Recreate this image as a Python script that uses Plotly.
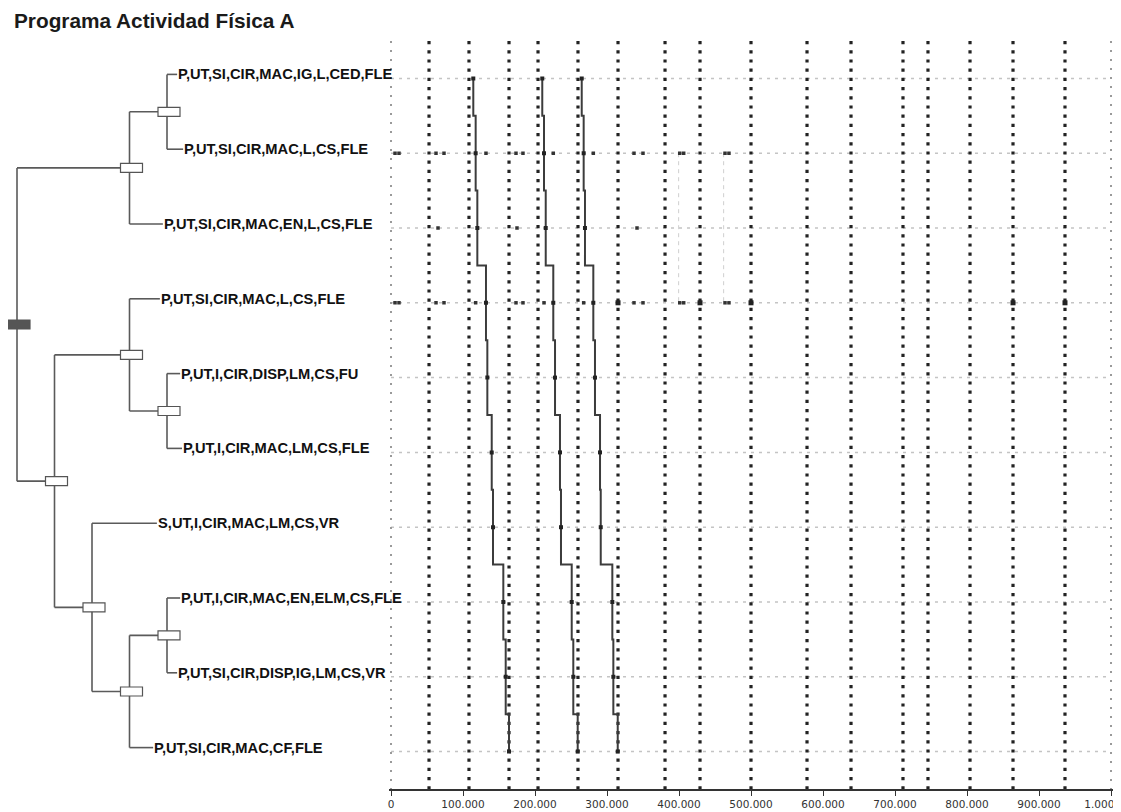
import plotly.graph_objects as go

# page body has an 8px margin: figure is sized/positioned to compensate
OFF = 8
W, H = 1121 - OFF, 812 - OFF

# ---------------- data ----------------
title_text = "Programa Actividad Física A"

leaf_labels = [
    "P,UT,SI,CIR,MAC,IG,L,CED,FLE",
    "P,UT,SI,CIR,MAC,L,CS,FLE",
    "P,UT,SI,CIR,MAC,EN,L,CS,FLE",
    "P,UT,SI,CIR,MAC,L,CS,FLE",
    "P,UT,I,CIR,DISP,LM,CS,FU",
    "P,UT,I,CIR,MAC,LM,CS,FLE",
    "S,UT,I,CIR,MAC,LM,CS,VR",
    "P,UT,I,CIR,MAC,EN,ELM,CS,FLE",
    "P,UT,SI,CIR,DISP,IG,LM,CS,VR",
    "P,UT,SI,CIR,MAC,CF,FLE",
]

# dendrogram merges (children), merge level (0 = root) and leaf branch ends
merge_children = [
    ("L0", "L1"), ("N0", "L2"), ("L4", "L5"), ("L3", "N2"), ("L7", "L8"),
    ("N4", "L9"), ("L6", "N5"), ("N3", "N6"), ("N1", "N7"),
]
merge_levels = [4, 3, 4, 3, 4, 3, 2, 1, 0]
leaf_branch_end = [4.27, 4.43, 3.89, 3.81, 4.35, 4.40, 3.73, 4.35, 4.27, 3.63]

# three staircase series (value per leaf row)
series_a = [114300, 117600, 119900, 131900, 133800, 139900, 141700, 156000, 159300, 163900]
series_b = [210100, 212500, 214900, 225400, 227800, 234700, 236100, 251000, 253200, 259300]
series_c = [264900, 267600, 269400, 281000, 283300, 290300, 291300, 307400, 308800, 314900]

# dotted reference values
reference_values = [52800, 108300, 163900, 204200, 259700, 315300, 380600, 429200,
                    500000, 577800, 638900, 711100, 745800, 804200, 863900, 936100]
boundary_values = [0, 1000000]

# scattered observations per row
row1_points = [5600, 11100, 62500, 73600, 131900, 173600, 183300, 225400, 281000,
               337500, 350000, 401000, 406500, 463900, 469400]
row2_points = [65300, 175000, 341700]
row3_points = [5600, 11100, 62500, 73600, 117600, 173600, 183300, 212500, 267600,
               337500, 350000, 401000, 406500, 463900, 469400]
row3_marks = [315300, 429200, 500000, 863900, 936100]
faint_link_values = [399500, 462000]
faint_link_rows = [1, 3]

x_ticks = list(range(0, 1000001, 100000))
x_ticktext = [f"{v:,}".replace(",", ".") for v in x_ticks]

# ---------------- layout geometry (page pixels minus body offset) ----------------
PX0, PX1 = 391 - OFF, 1111 - OFF      # pixel of value 0 / 1,000,000
PT, PB = 41 - OFF, 789 - OFF          # plot top / bottom
pad_val = 3000
ppv = (PX1 - PX0) / 1e6
xdom = [(PX0 - pad_val * ppv) / W, min(1.0, (PX1 + pad_val * ppv) / W)]
ydom = [1 - PB / H, 1 - PT / H]
rows = list(range(len(leaf_labels)))
n = len(rows)

LV0, LVSTEP = 17 - OFF, 37.5          # dendrogram level -> px
x2range = [-LV0 / LVSTEP, (PX0 - LV0) / LVSTEP]
row_px = (PB - PT) / n
yoff = 4 / row_px

fig = go.Figure()

# horizontal row guide lines
hx, hy = [], []
for r in rows:
    hx += [0, 1000000, None]
    hy += [r, r, None]
fig.add_trace(go.Scatter(x=hx, y=hy, mode="lines",
                         line=dict(color="#c4c4c4", width=1.5, dash="3px,5px"),
                         hoverinfo="skip", showlegend=False))

# boundary dotted lines (lighter)
for v in boundary_values:
    fig.add_trace(go.Scatter(x=[v, v], y=[-0.5, n - 0.5], mode="lines",
                             line=dict(color="#9a9a9a", width=2, dash="2px,7px"),
                             hoverinfo="skip", showlegend=False))

# reference dotted lines
for v in reference_values:
    fig.add_trace(go.Scatter(x=[v, v], y=[-0.5, n - 0.5], mode="lines",
                             line=dict(color="#222222", width=3.2, dash="3.2px,6px"),
                             hoverinfo="skip", showlegend=False))

# faint link lines
for v in faint_link_values:
    fig.add_trace(go.Scatter(x=[v, v], y=faint_link_rows, mode="lines",
                             line=dict(color="#cfcfcf", width=1, dash="4px,4px"),
                             hoverinfo="skip", showlegend=False))

# scattered points
for r, pts in [(1, row1_points), (2, row2_points), (3, row3_points)]:
    fig.add_trace(go.Scatter(x=pts, y=[r] * len(pts), mode="markers",
                             marker=dict(symbol="square", size=3.5, color="#333333"),
                             hoverinfo="skip", showlegend=False))
fig.add_trace(go.Scatter(x=row3_marks, y=[3] * len(row3_marks), mode="markers",
                         marker=dict(symbol="square", size=5, color="#222222"),
                         hoverinfo="skip", showlegend=False))

# staircase series
for s in (series_a, series_b, series_c):
    fig.add_trace(go.Scatter(x=s, y=rows, mode="lines+markers", line_shape="vhv",
                             line=dict(color="#3c3c3c", width=2),
                             marker=dict(symbol="square", size=4, color="#222222"),
                             hoverinfo="skip", showlegend=False))

# ---------------- dendrogram ----------------
node_pos = {}
for k, (a, b) in enumerate(merge_children):
    ys = []
    for c in (a, b):
        if c[0] == "L":
            ys.append(int(c[1:]))
        else:
            ys.append(node_pos[int(c[1:])][1])
    node_pos[k] = (merge_levels[k], sum(ys) / 2)

dx, dy = [], []
for k, (a, b) in enumerate(merge_children):
    nx, ny = node_pos[k]
    cys = []
    for c in (a, b):
        if c[0] == "L":
            i = int(c[1:])
            cx, cy = leaf_branch_end[i], i
        else:
            cx, cy = node_pos[int(c[1:])]
        cys.append(cy)
        dx += [nx, cx, None]
        dy += [cy, cy, None]
    dx += [nx, nx, None]
    dy += [cys[0], cys[1], None]

fig.add_trace(go.Scatter(x=dx, y=dy, mode="lines", xaxis="x2", yaxis="y2",
                         line=dict(color="#5a5a5a", width=1.6),
                         hoverinfo="skip", showlegend=False))

shapes = []
root = len(merge_children) - 1
for k, (nx, ny) in node_pos.items():
    shapes.append(dict(type="rect", xref="x2", yref="y2",
                       xsizemode="pixel", ysizemode="pixel",
                       xanchor=nx, yanchor=ny, x0=-9, x1=13, y0=-4.5, y1=4.5,
                       fillcolor="#555555" if k == root else "white",
                       line=dict(color="#555555", width=1.2)))

annotations = []
for i, lab in enumerate(leaf_labels):
    annotations.append(dict(xref="x2", yref="y2", x=leaf_branch_end[i], y=i,
                            text=lab, showarrow=False, xanchor="left", yanchor="middle",
                            borderpad=0,
                            font=dict(family="Liberation Sans, Arial", size=14.7,
                                      color="#111111", weight="bold")))
annotations.append(dict(xref="paper", yref="paper", x=(12 - OFF) / W, y=1 - (21 - OFF) / H,
                        text=title_text, showarrow=False, xanchor="left",
                        yanchor="middle",
                        font=dict(family="Liberation Sans, Arial", size=20.8,
                                  color="#1a1a1a", weight="bold")))

fig.update_layout(
    width=W, height=H,
    margin=dict(l=0, r=0, t=0, b=0, autoexpand=False),
    paper_bgcolor="white", plot_bgcolor="rgba(0,0,0,0)",
    showlegend=False,
    xaxis=dict(domain=xdom, range=[-pad_val, 1000000 + pad_val],
               tickvals=x_ticks, ticktext=x_ticktext,
               showgrid=False, zeroline=False, showline=True,
               linecolor="#333333", linewidth=1.5,
               ticks="outside", ticklen=5, tickcolor="#333333",
               ticklabeloverflow="allow", automargin=False,
               tickfont=dict(family="DejaVu Sans", size=10.5, color="#333333"),
               anchor="y"),
    yaxis=dict(domain=ydom, range=[n - 0.5, -0.5], visible=False, anchor="x",
               automargin=False),
    xaxis2=dict(domain=[0, PX0 / W], range=x2range, visible=False, anchor="y2",
                automargin=False),
    yaxis2=dict(domain=ydom, range=[n - 0.5 + yoff, -0.5 + yoff], visible=False,
                anchor="x2", automargin=False),
    shapes=shapes,
    annotations=annotations,
)

fig.write_html("out.html")
